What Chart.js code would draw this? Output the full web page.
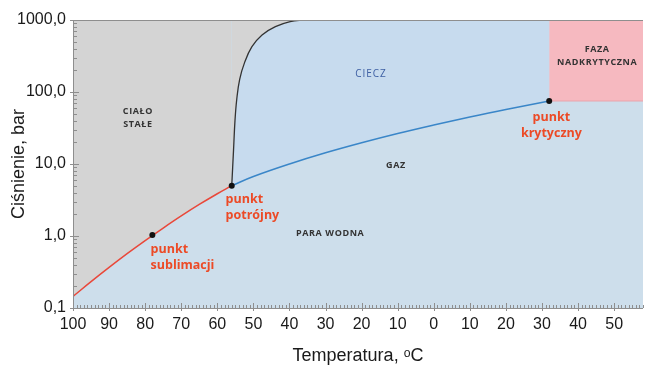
<!DOCTYPE html>
<html>
<head>
<meta charset="utf-8">
<script src="https://cdn.jsdelivr.net/npm/chart.js@4.4.1/dist/chart.umd.min.js"></script>
<style>
  html, body { margin: 0; padding: 0; background: #fff; }
  #wrap { width: 647px; height: 365px; }
</style>
</head>
<body>
<div id="wrap"><canvas id="chart" width="647" height="365"></canvas></div>
<script>
// Phase diagram of CO2: temperature (°C) vs pressure (bar, log scale)
const xTicks = [-100, -90, -80, -70, -60, -50, -40, -30, -20, -10, 0, 10, 20, 30, 40, 50]
const xTickLabels = ['100', '90', '80', '70', '60', '50', '40', '30', '20', '10', '0', '10', '20', '30', '40', '50']
const yTicks = [0.1, 1, 10, 100, 1000]
const yTickLabels = ['0,1', '1,0', '10,0', '100,0', '1000,0']

// solid <-> gas
const sublimationT = [-100, -95, -90, -85, -80, -75, -70, -65, -60, -56]
const sublimationP = [0.145, 0.232, 0.366, 0.568, 0.863, 1.29, 1.9, 2.74, 3.86, 5.0]
// solid <-> liquid
const meltingT = [-56, -55.5, -55.1, -54.6, -53.8, -52.4, -50.4, -47.6, -43.9, -39.8, -35.8]
const meltingP = [5.0, 15.6, 40, 80, 150, 260, 426, 619, 807, 948, 1000]
// liquid <-> gas
const boilingT = [-56, -50, -40, -30, -20, -10, 0, 10, 20, 32]
const boilingP = [5.0, 6.7, 10.0, 14.3, 19.7, 26.5, 34.8, 45.0, 57.3, 75]
// sublimation point, triple point, critical point
const pointT = [-78, -56, 32]
const pointP = [1.03, 5.0, 75]
const supercriticalT = [32, 58]
const supercriticalP = [75, 75]

// annotation texts anchored at [T, P]
const regionLabels = [
  { lines: ['CIAŁO', 'STAŁE'], t: -82, p: 43, kind: 'region' },
  { lines: ['CIECZ'], t: -17.4, p: 178, kind: 'liquid' },
  { lines: ['GAZ'], t: -10.5, p: 9.7, kind: 'region' },
  { lines: ['PARA WODNA'], t: -28.7, p: 1.07, kind: 'region' },
  { lines: ['FAZA', 'NADKRYTYCZNA'], t: 45.3, p: 320, kind: 'region' },
  { lines: ['punkt', 'sublimacji'], t: -78.5, p: 0.5, kind: 'point', align: 'left' },
  { lines: ['punkt', 'potrójny'], t: -57.7, p: 2.5, kind: 'point', align: 'left' },
  { lines: ['punkt', 'krytyczny'], t: 32.6, p: 34.7, kind: 'point' }
]

const labelStyles = {
  region: { font: 'bold 9px "Open Sans"', color: '#333333', spacing: '0.6px', lineHeight: 13 },
  liquid: { font: '10px "Open Sans"', color: '#3d5fa3', spacing: '1px', lineHeight: 13 },
  point: { font: 'bold 12.5px "Open Sans"', color: '#ec4a26', spacing: '0px', lineHeight: 16 }
}

const toXY = (ts, ps) => ts.map((t, i) => ({ x: t, y: ps[i] }))

const backgroundPlugin = {
  id: 'plotBackground',
  beforeDatasetsDraw(chart) {
    const { ctx, chartArea: a } = chart
    ctx.save()
    ctx.fillStyle = '#cddeeb'
    ctx.fillRect(a.left, a.top, a.right - a.left, a.bottom - a.top)
    ctx.restore()
  }
}

// frame lines and inward minor ticks
const axesPlugin = {
  id: 'axesFrame',
  afterDatasetsDraw(chart) {
    const { ctx, chartArea: a, scales: { x, y } } = chart
    ctx.save()
    ctx.strokeStyle = '#8e8e8e'
    ctx.lineWidth = 1
    ctx.beginPath()
    ctx.moveTo(a.left + 0.5, a.top)
    ctx.lineTo(a.left + 0.5, a.bottom + 0.5)
    ctx.lineTo(a.right, a.bottom + 0.5)
    ctx.moveTo(a.left, a.top + 0.5)
    ctx.lineTo(a.right, a.top + 0.5)
    for (let t = -100; t <= 58; t++) {
      const px = Math.round(x.getPixelForValue(t)) + 0.5
      const major = t % 10 === 0
      ctx.moveTo(px, a.bottom - (major ? 5 : 3))
      ctx.lineTo(px, a.bottom + (major ? 3 : 0))
    }
    for (const d of [0.1, 1, 10, 100]) {
      for (let m = 1; m <= 10; m++) {
        const py = Math.round(y.getPixelForValue(d * m)) + 0.5
        const major = m === 1 || m === 10
        ctx.moveTo(a.left - (major ? 3 : 0), py)
        ctx.lineTo(a.left + (major ? 6 : 4), py)
      }
    }
    ctx.stroke()
    ctx.restore()
  }
}

const labelsPlugin = {
  id: 'regionLabels',
  afterDatasetsDraw(chart) {
    const { ctx, scales: { x, y } } = chart
    ctx.save()
    regionLabels.forEach(l => {
      const s = labelStyles[l.kind]
      ctx.font = s.font
      ctx.fillStyle = s.color
      ctx.letterSpacing = s.spacing
      ctx.textAlign = l.align || 'center'
      ctx.textBaseline = 'middle'
      const px = x.getPixelForValue(l.t)
      const py = y.getPixelForValue(l.p)
      const h = (l.lines.length - 1) * s.lineHeight
      l.lines.forEach((txt, i) => {
        ctx.fillText(txt, px, py - h / 2 + i * s.lineHeight)
      })
    })
    ctx.restore()
  }
}

const lineBase = { pointRadius: 0, fill: false, tension: 0.4, borderWidth: 1.5 }
const fillBase = { pointRadius: 0, borderWidth: 0, fill: 'end', tension: 0.4 }

new Chart(document.getElementById('chart'), {
  type: 'line',
  data: {
    datasets: [
      { data: toXY(pointT, pointP), showLine: false, pointRadius: 3, pointBackgroundColor: '#111', pointBorderWidth: 0 },
      { ...lineBase, data: toXY(sublimationT, sublimationP), borderColor: '#e9483a' },
      { ...lineBase, data: toXY(meltingT, meltingP), borderColor: '#333333', borderWidth: 1.3 },
      { ...lineBase, data: toXY(boilingT, boilingP), borderColor: '#3a86c8' },
      { ...fillBase, data: toXY(sublimationT, sublimationP), backgroundColor: '#d4d4d4' },
      { ...fillBase, data: toXY(meltingT, meltingP), backgroundColor: '#d4d4d4' },
      { ...fillBase, data: toXY(supercriticalT, supercriticalP), backgroundColor: '#f6b9c0', borderWidth: 1, borderColor: '#eaa3ab', tension: 0 },
      { ...fillBase, data: toXY(boilingT, boilingP), backgroundColor: '#c7dbee' }
    ]
  },
  options: {
    responsive: false,
    animation: false,
    layout: { padding: { top: 20, right: 2, left: 0, bottom: 0 } },
    plugins: { legend: { display: false }, tooltip: { enabled: false } },
    scales: {
      x: {
        type: 'linear',
        min: -100,
        max: 58,
        afterBuildTicks: (scale) => { scale.ticks = xTicks.map(v => ({ value: v })) },
        afterFit: (scale) => { scale.height = 57 },
        grid: { display: false, drawTicks: false },
        border: { display: false },
        ticks: {
          autoSkip: false,
          maxRotation: 0,
          padding: 7,
          color: '#1a1a1a',
          font: { family: '"Liberation Sans", Arial, sans-serif', size: 16 },
          callback: (v, i) => xTickLabels[i]
        },
        title: {
          display: true,
          text: 'Temperatura, ᵒC',
          color: '#1a1a1a',
          font: { family: '"Liberation Sans", Arial, sans-serif', size: 18 },
          padding: { top: 0, bottom: -2 }
        }
      },
      y: {
        type: 'logarithmic',
        min: 0.1,
        max: 1000,
        afterBuildTicks: (scale) => { scale.ticks = yTicks.map(v => ({ value: v })) },
        afterFit: (scale) => { scale.width = 73 },
        grid: { display: false, drawTicks: false },
        border: { display: false },
        ticks: {
          padding: 7,
          color: '#1a1a1a',
          font: { family: '"Liberation Sans", Arial, sans-serif', size: 16 },
          callback: (v, i) => yTickLabels[i]
        },
        title: {
          display: true,
          text: 'Ciśnienie, bar',
          color: '#1a1a1a',
          font: { family: '"Liberation Sans", Arial, sans-serif', size: 18 },
          padding: { top: 8, bottom: 0 }
        }
      }
    }
  },
  plugins: [backgroundPlugin, axesPlugin, labelsPlugin]
})
</script>
</body>
</html>
